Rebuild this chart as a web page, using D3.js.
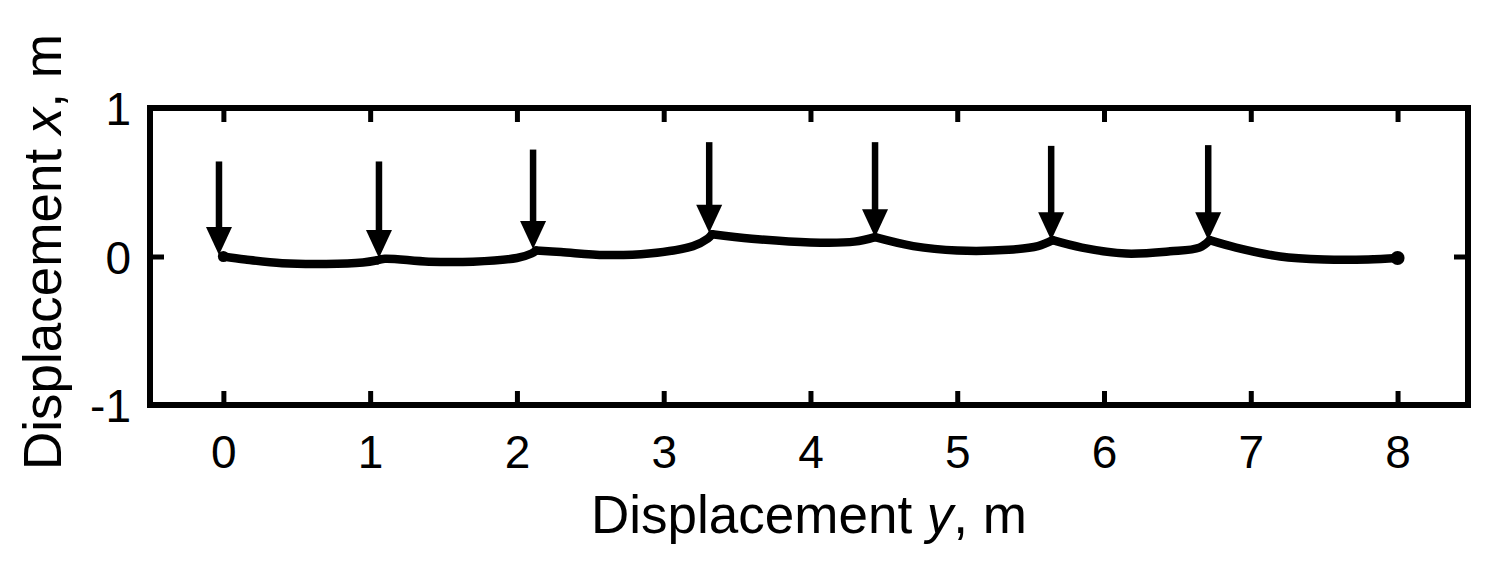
<!DOCTYPE html>
<html>
<head>
<meta charset="utf-8">
<script src="https://cdn.jsdelivr.net/npm/d3@7"></script>
<style>
  body { margin: 0; background: #fff; }
  text { font-family: "Liberation Sans", Arial, sans-serif; fill: #000; }
</style>
</head>
<body>
<svg id="chart" width="1509" height="575"></svg>
<script>
// horizontal position (displacement y) and vertical value (displacement x) of the track
const trackY = [0, 0.15, 0.4, 0.7, 0.95, 1.05,
  1.1, 1.4, 1.7, 2.0, 2.1, 2.13,
  2.3, 2.6, 2.9, 3.2, 3.3, 3.33,
  3.6, 4.0, 4.3, 4.44,
  4.7, 5.0, 5.35, 5.55, 5.65,
  5.85, 6.15, 6.45, 6.65, 6.72,
  6.9, 7.2, 7.5, 7.8, 8.0];
const trackX = [0, -0.02, -0.045, -0.05, -0.04, -0.025,
  -0.015, -0.035, -0.035, -0.01, 0.02, 0.04,
  0.03, 0.01, 0.02, 0.07, 0.12, 0.15,
  0.12, 0.095, 0.10, 0.13,
  0.07, 0.04, 0.045, 0.07, 0.11,
  0.06, 0.02, 0.035, 0.06, 0.11,
  0.06, 0.0, -0.02, -0.02, -0.01];
// points where the track has a kink (contact points)
const kinks = [0, 1.05, 2.13, 3.33, 4.44, 5.65, 6.72, 8.0];

// arrows: position, top and tip
const arrowY = [-0.03, 1.06, 2.11, 3.31, 4.44, 5.64, 6.71];
const arrowTop = [0.64, 0.64, 0.72, 0.77, 0.77, 0.745, 0.75];
const arrowTip = [0.01, -0.01, 0.05, 0.16, 0.13, 0.11, 0.11];

const xTicks = [0, 1, 2, 3, 4, 5, 6, 7, 8];
const yTicks = [-1, 0, 1];

const svg = d3.select("#chart");

const pLeft = 150, pRight = 1468, pTop = 108, pBottom = 405;

const x = d3.scaleLinear().domain([-0.5, 8.48]).range([pLeft, pRight]);
const y = d3.scaleLinear().domain([-1, 1]).range([pBottom, pTop]);

// frame
svg.append("rect")
  .attr("x", pLeft).attr("y", pTop)
  .attr("width", pRight - pLeft).attr("height", pBottom - pTop)
  .attr("fill", "none").attr("stroke", "#000").attr("stroke-width", 6);

// ticks (inward, top and bottom / left and right)
const tickLen = 14;
const xAxisB = svg.append("g")
  .attr("transform", `translate(0,${pBottom})`)
  .call(d3.axisBottom(x).tickValues(xTicks).tickSize(-tickLen).tickSizeOuter(0));
const xAxisT = svg.append("g")
  .attr("transform", `translate(0,${pTop})`)
  .call(d3.axisTop(x).tickValues(xTicks).tickSize(-tickLen).tickFormat("").tickSizeOuter(0));
const yAxisL = svg.append("g")
  .attr("transform", `translate(${pLeft},0)`)
  .call(d3.axisLeft(y).tickValues(yTicks).tickSize(-tickLen).tickFormat(d => String(d)).tickSizeOuter(0));
const yAxisR = svg.append("g")
  .attr("transform", `translate(${pRight},0)`)
  .call(d3.axisRight(y).tickValues(yTicks).tickSize(-tickLen).tickFormat("").tickSizeOuter(0));

[xAxisB, xAxisT, yAxisL, yAxisR].forEach(a => {
  a.select(".domain").remove();
  a.selectAll(".tick line").attr("stroke", "#000").attr("stroke-width", 5);
  a.selectAll("text").style("font-size", "46px").attr("font-family", null).attr("fill", "#000");
});
xAxisB.selectAll("text").attr("dy", null).attr("y", 63);
yAxisL.selectAll("text").attr("dy", "0.36em").attr("x", -19);

// track, drawn piece by piece between kinks
const pts = trackY.map((v, i) => [v, trackX[i]]);
const pieces = [];
let cur = [];
pts.forEach(p => {
  cur.push(p);
  if (kinks.includes(p[0]) && cur.length > 1) {
    pieces.push(cur);
    cur = [p];
  }
});

const line = d3.line()
  .x(d => x(d[0]))
  .y(d => y(d[1]))
  .curve(d3.curveCatmullRom);

svg.append("g").selectAll("path")
  .data(pieces)
  .join("path")
  .attr("d", line)
  .attr("fill", "none")
  .attr("stroke", "#000")
  .attr("stroke-width", 8.5)
  .attr("stroke-linecap", "round")
  .attr("stroke-linejoin", "round");

// end dots
svg.append("circle").attr("cx", x(trackY[0])).attr("cy", y(trackX[0])).attr("r", 5.5);
svg.append("circle").attr("cx", x(trackY[trackY.length - 1])).attr("cy", y(trackX[trackX.length - 1])).attr("r", 7);

// arrows
const headH = 28, headW = 26;
const arrows = svg.append("g").selectAll("g")
  .data(arrowY.map((v, i) => ({ pos: v, top: arrowTop[i], tip: arrowTip[i] })))
  .join("g");
arrows.append("line")
  .attr("x1", d => x(d.pos)).attr("x2", d => x(d.pos))
  .attr("y1", d => y(d.top)).attr("y2", d => y(d.tip) - headH + 2)
  .attr("stroke", "#000").attr("stroke-width", 6.5);
arrows.append("path")
  .attr("d", d => {
    const cx = x(d.pos), ty = y(d.tip);
    return `M${cx},${ty}L${cx - headW / 2},${ty - headH}L${cx + headW / 2},${ty - headH}Z`;
  })
  .attr("fill", "#000");

// axis titles
const xt = svg.append("text")
  .attr("x", 809).attr("y", 533)
  .attr("text-anchor", "middle")
  .style("font-size", "53px");
xt.append("tspan").text("Displacement ");
xt.append("tspan").style("font-style", "italic").text("y");
xt.append("tspan").text(", m");

const yt = svg.append("text")
  .attr("transform", "translate(61,252) rotate(-90)")
  .attr("text-anchor", "middle")
  .style("font-size", "53px");
yt.append("tspan").text("Displacement ");
yt.append("tspan").style("font-style", "italic").text("x");
yt.append("tspan").text(", m");
</script>
</body>
</html>
